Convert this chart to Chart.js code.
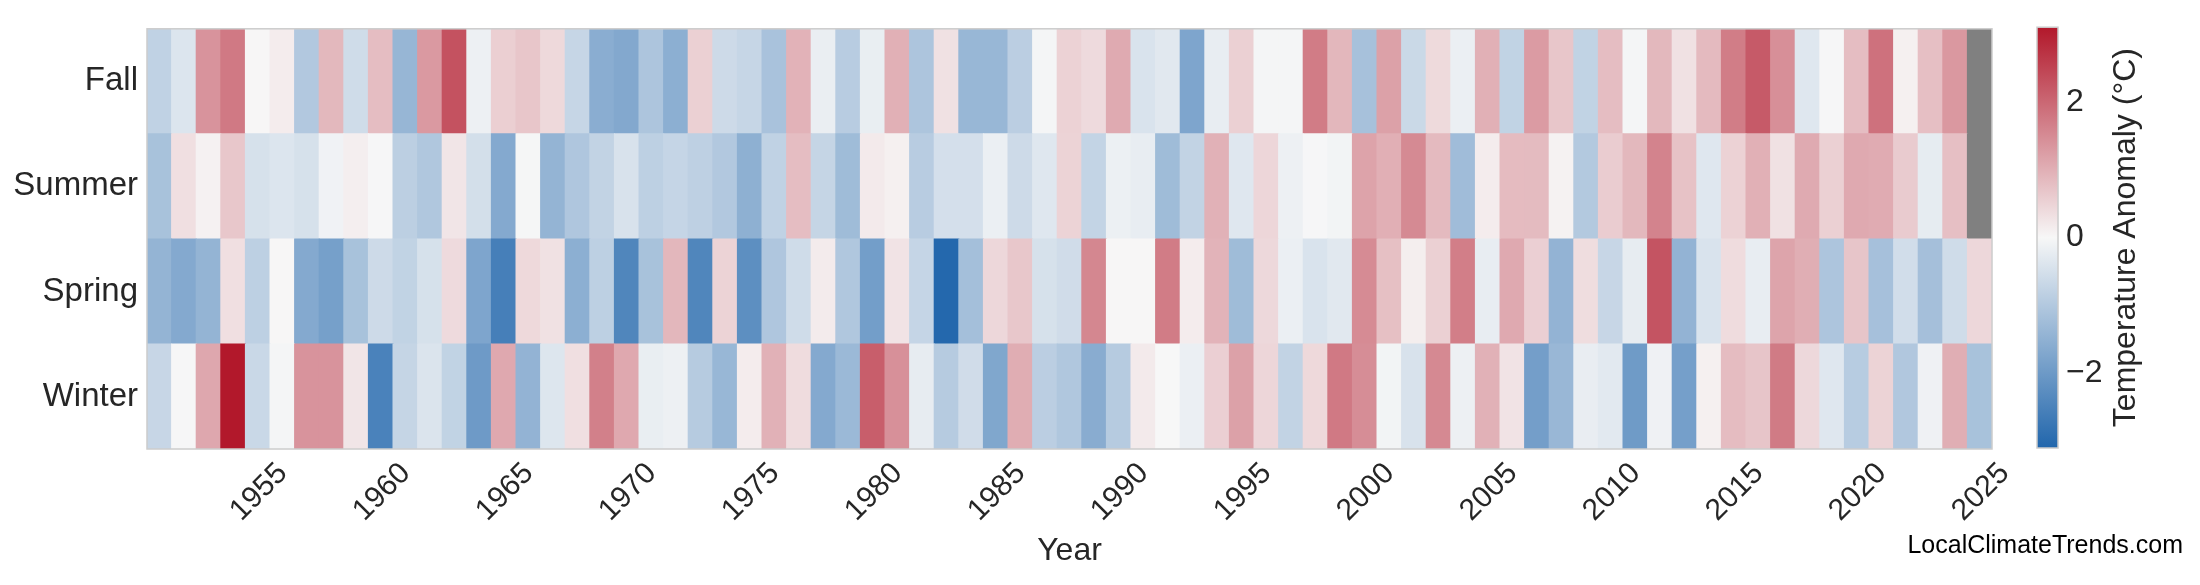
<!DOCTYPE html>
<html>
<head>
<meta charset="utf-8">
<script src="https://cdn.jsdelivr.net/npm/chart.js@4.4.1/dist/chart.umd.min.js"></script>
<style>
html, body { margin: 0; padding: 0; background: #fff; }
#wrap { position: relative; width: 2200px; height: 585px; }
#heat { position: absolute; left: 0; top: 0; }
#cbar { position: absolute; left: 2000px; top: 0; }
</style>
</head>
<body>
<div id="wrap">
  <canvas id="heat" width="2200" height="585"></canvas>
  <canvas id="cbar" width="200" height="585"></canvas>
</div>
<script>
// years on the x axis
const years = [
  1951, 1952, 1953, 1954, 1955, 1956, 1957, 1958, 1959, 1960,
  1961, 1962, 1963, 1964, 1965, 1966, 1967, 1968, 1969, 1970,
  1971, 1972, 1973, 1974, 1975, 1976, 1977, 1978, 1979, 1980,
  1981, 1982, 1983, 1984, 1985, 1986, 1987, 1988, 1989, 1990,
  1991, 1992, 1993, 1994, 1995, 1996, 1997, 1998, 1999, 2000,
  2001, 2002, 2003, 2004, 2005, 2006, 2007, 2008, 2009, 2010,
  2011, 2012, 2013, 2014, 2015, 2016, 2017, 2018, 2019, 2020,
  2021, 2022, 2023, 2024, 2025
];

// seasonal anomalies (°C)
const fall = [
  -0.8, -0.39, 1.39, 1.75, 0.02, 0.15, -1.0, 0.88, -0.58, 0.8,
  -1.39, 1.3, 2.3, -0.15, 0.56, 0.68, 0.42, -0.71, -1.58, -1.68,
  -1.07, -1.55, 0.54, -0.61, -0.71, -1.13, 0.96, -0.19, -0.91, -0.2,
  0.99, -1.07, 0.3, -1.37, -1.37, -0.87, -0.05, 0.51, 0.4, 1.07,
  -0.43, -0.32, -1.75, -0.22, 0.54, -0.05, -0.05, 1.71, 0.89, -1.16,
  1.2, -0.65, 0.41, -0.17, 0.99, -0.78, 1.28, 0.68, -0.78, 0.8,
  -0.04, 0.88, 0.3, 0.85, 1.7, 2.18, 1.45, -0.35, -0.02, 0.8,
  1.86, 0.1, 0.78, 1.32, null
];
const summer = [
  -1.14, 0.33, 0.08, 0.67, -0.48, -0.39, -0.48, -0.1, 0.12, -0.02,
  -0.85, -1.03, 0.25, -0.52, -1.67, -0.03, -1.43, -1.04, -0.77, -0.45,
  -0.84, -0.72, -0.83, -1.0, -1.52, -0.8, 0.8, -0.73, -1.27, 0.18,
  0.1, -0.91, -0.51, -0.51, -0.17, -0.61, -0.35, 0.5, -0.75, -0.16,
  -0.22, -1.27, -0.77, 0.97, -0.35, 0.46, -0.15, -0.02, -0.07, 1.17,
  1.0, 1.52, 0.85, -1.26, 0.15, 0.83, 0.84, 0.07, -0.98, 0.6,
  0.88, 1.61, 0.74, -0.35, 0.51, 0.99, 0.3, 1.07, 0.54, 1.08,
  1.05, 0.61, -0.24, 0.78, null
];
const spring = [
  -1.43, -1.67, -1.43, 0.33, -0.84, 0.02, -1.67, -1.87, -1.14, -0.61,
  -0.78, -0.48, 0.4, -1.75, -2.56, 0.42, 0.3, -1.55, -0.84, -2.42,
  -1.14, 0.89, -2.42, 0.5, -2.23, -1.05, -0.58, 0.17, -1.03, -1.91,
  0.28, -0.72, -3.05, -1.2, 0.44, 0.67, -0.48, -0.57, 1.56, 0.02,
  0.02, 1.71, 0.15, 0.94, -1.27, 0.43, -0.18, -0.43, -0.32, 1.5,
  0.77, 0.13, 0.54, 1.68, -0.22, 1.08, 0.55, -1.45, 0.36, -0.7,
  -0.23, 2.27, -1.45, -0.43, 0.38, -0.22, 1.16, 1.02, -1.07, 0.7,
  -1.17, -0.55, -1.19, -0.58, 0.44
];
const winter = [
  -0.7, -0.02, 1.11, 3.1, -0.66, -0.05, 1.39, 1.39, 0.25, -2.5,
  -0.73, -0.4, -0.78, -1.98, 1.1, -1.45, -0.37, 0.33, 1.65, 1.1,
  -0.2, -0.15, -0.94, -1.37, 0.15, 0.97, 0.38, -1.67, -1.33, 2.13,
  1.43, -0.23, -0.94, -0.57, -1.72, 1.03, -0.87, -1.03, -1.6, -0.94,
  0.18, 0.0, -0.18, 0.55, 1.2, 0.46, -0.77, 0.42, 1.75, 1.47,
  -0.07, -0.45, 1.53, -0.15, 0.97, 0.28, -1.9, -1.36, -0.21, -0.3,
  -1.97, -0.12, -1.88, 0.1, 0.82, 0.7, 1.73, 0.43, -0.35, -0.93,
  0.5, -1.02, -0.12, 1.02, -1.14
];

// rows from bottom to top
const seasons = ['Winter', 'Spring', 'Summer', 'Fall'];
const rows = [winter, spring, summer, fall];

const cbMin = -3.1, cbMax = 3.1;
const cbTicks = [-2, 0, 2];

const FONT = '"Liberation Sans", Arial, sans-serif';
const TXT = '#262626';

// blue - white - red, straight in rgb
const cBlue = [33, 102, 172], cWhite = [247, 247, 247], cRed = [178, 24, 43];
function anomalyColor(v) {
  if (v === null) return '#808080';
  let t = Math.max(-1, Math.min(1, v / cbMax));
  const end = t < 0 ? cBlue : cRed;
  t = Math.abs(t);
  const c = cWhite.map((w, k) => Math.round(w + (end[k] - w) * t));
  return 'rgb(' + c.join(',') + ')';
}

// light grey frame round the plot area
const framePlugin = {
  id: 'frame',
  afterDraw(chart) {
    const a = chart.chartArea, ctx = chart.ctx;
    ctx.save();
    ctx.strokeStyle = '#cccccc';
    ctx.lineWidth = 1.5;
    ctx.strokeRect(a.left, a.top, a.right - a.left, a.bottom - a.top);
    ctx.restore();
  }
};

const markPlugin = {
  id: 'mark',
  afterDraw(chart) {
    const ctx = chart.ctx;
    ctx.save();
    ctx.font = '25px ' + FONT;
    ctx.fillStyle = '#000';
    ctx.textAlign = 'right';
    ctx.textBaseline = 'alphabetic';
    ctx.fillText('LocalClimateTrends.com', 2183, 553);
    ctx.restore();
  }
};

new Chart(document.getElementById('heat'), {
  type: 'bar',
  data: {
    labels: years.map(String),
    datasets: rows.map((vals, r) => ({
      label: seasons[r],
      data: vals.map(() => 1),
      backgroundColor: vals.map(anomalyColor),
      borderWidth: 0,
      barPercentage: 1,
      categoryPercentage: 1,
      inflateAmount: 0.5
    }))
  },
  options: {
    responsive: false,
    animation: false,
    layout: { padding: { left: 0, top: 15, right: 208, bottom: 0 } },
    plugins: { legend: { display: false }, tooltip: { enabled: false } },
    scales: {
      x: {
        stacked: true,
        grid: { display: false, drawTicks: false },
        border: { display: false },
        ticks: {
          autoSkip: false,
          minRotation: 45,
          maxRotation: 45,
          labelOffset: 25,
          padding: 7,
          color: TXT,
          font: { family: FONT, size: 30 },
          callback: (v, i) => (years[i] % 5 === 0 ? String(years[i]) : '')
        },
        title: {
          display: true,
          text: 'Year',
          color: TXT,
          font: { family: FONT, size: 32 },
          padding: { top: 0, bottom: 15 }
        },
        afterFit: s => { s.height = 136; }
      },
      y: {
        stacked: true,
        min: 0,
        max: 4,
        grid: { display: false, drawTicks: false },
        border: { display: false },
        afterBuildTicks: s => { s.ticks = [0.5, 1.5, 2.5, 3.5].map(v => ({ value: v })); },
        ticks: {
          padding: 9,
          color: TXT,
          font: { family: FONT, size: 33 },
          callback: v => seasons[Math.floor(v)]
        },
        afterFit: s => { s.width = 147; }
      }
    }
  },
  plugins: [framePlugin, markPlugin]
});

// colour bar
const cbLabelPlugin = {
  id: 'cbLabel',
  afterDraw(chart) {
    const a = chart.chartArea, ctx = chart.ctx;
    ctx.save();
    ctx.translate(135, (a.top + a.bottom) / 2);
    ctx.rotate(-Math.PI / 2);
    ctx.font = '32px ' + FONT;
    ctx.fillStyle = TXT;
    ctx.textAlign = 'center';
    ctx.textBaseline = 'alphabetic';
    ctx.fillText('Temperature Anomaly (\u00B0C)', 0, 0);
    ctx.restore();
  }
};

new Chart(document.getElementById('cbar'), {
  type: 'bar',
  data: {
    labels: [''],
    datasets: [{
      data: [[cbMin, cbMax]],
      backgroundColor: c => {
        const ch = c.chart, y = ch.scales.y;
        if (!ch.chartArea || !y) return '#f7f7f7';
        const g = ch.ctx.createLinearGradient(0, y.getPixelForValue(cbMin), 0, y.getPixelForValue(cbMax));
        g.addColorStop(0, '#2166ac');
        g.addColorStop(0.5, '#f7f7f7');
        g.addColorStop(1, '#b2182b');
        return g;
      },
      borderWidth: 0,
      barPercentage: 1,
      categoryPercentage: 1
    }]
  },
  options: {
    responsive: false,
    animation: false,
    layout: { padding: { left: 37, top: 15, right: 0, bottom: 137 } },
    plugins: { legend: { display: false }, tooltip: { enabled: false } },
    scales: {
      x: { display: false },
      y: {
        position: 'right',
        min: cbMin,
        max: cbMax,
        grid: { display: false, drawTicks: false },
        border: { display: false },
        afterBuildTicks: s => { s.ticks = cbTicks.map(v => ({ value: v })); },
        ticks: {
          padding: 8,
          color: TXT,
          font: { family: FONT, size: 32 },
          callback: v => (v < 0 ? '\u2212' + Math.abs(v) : String(v))
        },
        afterFit: s => { s.width = 142; }
      }
    }
  },
  plugins: [framePlugin, cbLabelPlugin]
});
</script>
</body>
</html>
